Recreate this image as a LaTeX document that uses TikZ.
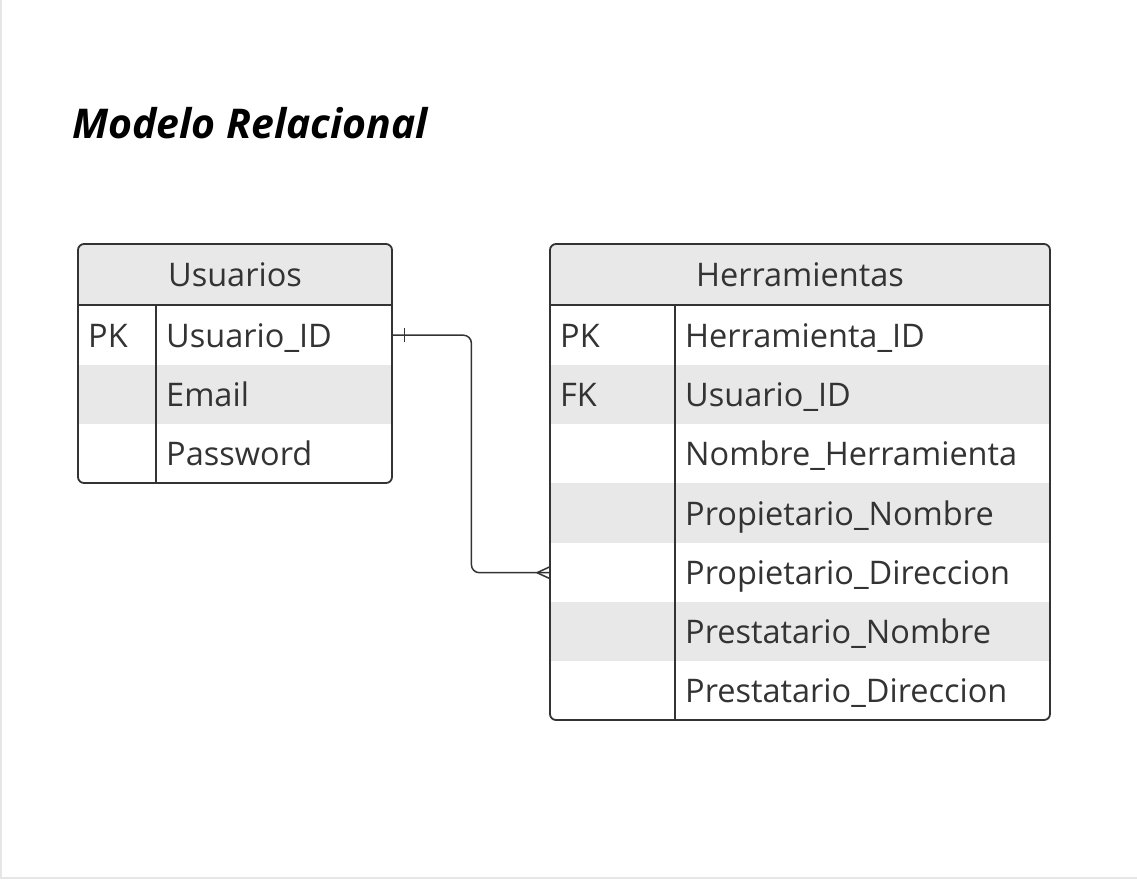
\documentclass[tikz,border=0pt]{standalone}
\usepackage{fontspec}
\setmainfont{Open Sans}
\usetikzlibrary{calc}
\definecolor{ink}{HTML}{333333}
\definecolor{rowgray}{HTML}{E8E8E8}
\definecolor{framegray}{HTML}{E6E6E6}
\tikzset{
  cell/.style={draw=none, inner sep=0pt, anchor=north west},
  txt/.style={inner sep=0pt, text=ink, font=\fontsize{32.5}{36}\selectfont},
  tbl/.style={draw=ink, line width=1.8pt, rounded corners=6pt},
  sep/.style={draw=ink, line width=1.5pt},
  conn/.style={draw=ink, line width=1.5pt}
}
\begin{document}
\begin{tikzpicture}[x=1pt,y=-1pt]
\useasboundingbox (0,0) rectangle (1137,879);
\fill[white] (0,0) rectangle (1137,879);
\draw[framegray, line width=2pt] (1,0) -- (1,878) -- (1137,878);

% title
\node[inner sep=0pt, anchor=base west, text=black, font=\fontsize{41}{45}\selectfont\bfseries\itshape] (title) at (72,138) {Modelo Relacional};

% ---- Usuarios ----
\begin{scope}
\clip[rounded corners=6pt] (78,244) rectangle (392,483);
\node[cell, fill=rowgray, minimum width=314pt, minimum height=61pt] (uh) at (78,244) {};
\node[cell, fill=white, minimum width=314pt, minimum height=60pt] (ur1) at (78,305) {};
\node[cell, fill=rowgray, minimum width=314pt, minimum height=59pt] (ur2) at (78,365) {};
\node[cell, fill=white, minimum width=314pt, minimum height=59pt] (ur3) at (78,424) {};
\end{scope}
\draw[sep] (78,305) -- (392,305);
\draw[sep] (156,305) -- (156,483);
\draw[tbl] (78,244) rectangle (392,483);
\node[txt, anchor=base] (uht) at (235,286) {Usuarios};
\node[txt, anchor=base west] (uk1) at (88,347) {PK};
\node[txt, anchor=base west] (un1) at (166,347) {Usuario\_ID};
\node[txt, anchor=base west] (un2) at (166,406) {Email};
\node[txt, anchor=base west] (un3) at (166,465) {Password};

% ---- Herramientas ----
\begin{scope}
\clip[rounded corners=6pt] (550,244) rectangle (1050,720);
\node[cell, fill=rowgray, minimum width=500pt, minimum height=61pt] (hh) at (550,244) {};
\node[cell, fill=white, minimum width=500pt, minimum height=60pt] (hr1) at (550,305) {};
\node[cell, fill=rowgray, minimum width=500pt, minimum height=59pt] (hr2) at (550,365) {};
\node[cell, fill=white, minimum width=500pt, minimum height=59pt] (hr3) at (550,424) {};
\node[cell, fill=rowgray, minimum width=500pt, minimum height=60pt] (hr4) at (550,483) {};
\node[cell, fill=white, minimum width=500pt, minimum height=59pt] (hr5) at (550,543) {};
\node[cell, fill=rowgray, minimum width=500pt, minimum height=59pt] (hr6) at (550,602) {};
\node[cell, fill=white, minimum width=500pt, minimum height=59pt] (hr7) at (550,661) {};
\end{scope}
\draw[sep] (550,305) -- (1050,305);
\draw[sep] (675,305) -- (675,720);
\draw[tbl] (550,244) rectangle (1050,720);
\node[txt, anchor=base] (hht) at (800,286) {Herramientas};
\node[txt, anchor=base west] (hk1) at (560,347) {PK};
\node[txt, anchor=base west] (hk2) at (560,406) {FK};
\node[txt, anchor=base west] (hn1) at (685,347) {Herramienta\_ID};
\node[txt, anchor=base west] (hn2) at (685,406) {Usuario\_ID};
\node[txt, anchor=base west] (hn3) at (685,465) {Nombre\_Herramienta};
\node[txt, anchor=base west] (hn4) at (685,525) {Propietario\_Nombre};
\node[txt, anchor=base west] (hn5) at (685,584) {Propietario\_Direccion};
\node[txt, anchor=base west] (hn6) at (685,643) {Prestatario\_Nombre};
\node[txt, anchor=base west] (hn7) at (685,702) {Prestatario\_Direccion};

% ---- connector ----
\draw[conn, rounded corners=8pt] (ur1.east) -- ++(79,0) |- (hr5.west);
\draw[conn] ($(ur1.east)+(12,-7)$) -- ($(ur1.east)+(12,7)$);
\draw[conn] ($(hr5.west)+(-13,0)$) -- ($(hr5.west)+(0,-6)$);
\draw[conn] ($(hr5.west)+(-13,0)$) -- ($(hr5.west)+(0,6)$);
\end{tikzpicture}
\end{document}
